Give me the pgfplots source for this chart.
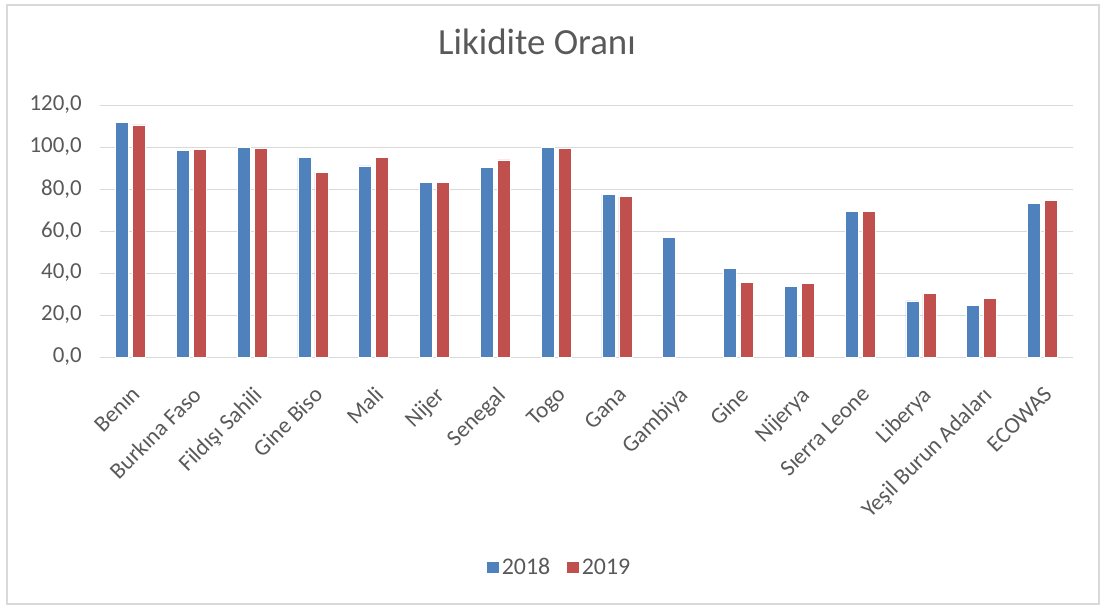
\documentclass[border=0pt]{standalone}
\usepackage{fontspec}
\setmainfont{Carlito}
\usepackage{pgfplots}
\pgfplotsset{compat=1.18}
\definecolor{barblue}{HTML}{4F81BD}
\definecolor{barred}{HTML}{C0504D}
\definecolor{txt}{HTML}{595959}
\definecolor{gridc}{HTML}{D9D9D9}
\begin{document}
\begin{tikzpicture}
\path[use as bounding box] (0bp,0bp) rectangle (1104bp,-607bp);
\draw[gridc, line width=1.5bp] (7bp,-5bp) rectangle (1099bp,-604bp);
\node[txt, font=\fontsize{37}{44}\selectfont] at (537bp,-42bp) {Likidite Oranı};
\begin{axis}[
  at={(100bp,-357bp)}, anchor=south west,
  scale only axis, width=973bp, height=252bp,
  ybar=4bp, bar width=13bp,
  ymin=0, ymax=120, ytick={0,20,...,120},
  xmin=-0.5, xmax=15.5, xtick={0,...,15},
  xticklabels={Benın,Burkına Faso,Fildışı Sahili,Gine Biso,Mali,Nijer,Senegal,Togo,Gana,Gambiya,Gine,Nijerya,Sıerra Leone,Liberya,Yeşil Burun Adaları,ECOWAS},
  ymajorgrids, grid style={gridc, line width=1bp},
  axis line style={draw=none},
  major tick length=0pt,
  /pgf/number format/.cd, fixed, fixed zerofill, precision=1, use comma, assume math mode=true,
  /pgfplots/.cd,
  yticklabel style={txt, font=\fontsize{23}{27}\selectfont, inner sep=0pt, xshift=-18bp},
  xticklabel style={txt, font=\fontsize{23}{27}\selectfont, rotate=45, anchor=north east, inner sep=0pt, xshift=-19.8bp, yshift=-19.8bp},
  legend style={at={(0.472,-0.8333)}, anchor=center, draw=none, fill=none, legend columns=2,
    font=\fontsize{24}{28}\selectfont, text=txt,
    /tikz/every even column/.append style={column sep=14bp}},
  legend image code/.code={\fill[#1] (0bp,-6bp) rectangle (13bp,6bp);},
]
\addplot[fill=barblue, draw=white, line width=0.6bp] coordinates {
(0,111.6) (1,98.2) (2,100.0) (3,95.2) (4,91.0) (5,83.1) (6,90.3) (7,100.0)
(8,77.5) (9,57.0) (10,42.3) (11,33.8) (12,69.2) (13,26.7) (14,24.6) (15,73.3)};
\addplot[fill=barred, draw=white, line width=0.6bp] coordinates {
(0,110.5) (1,98.8) (2,99.5) (3,88.0) (4,95.2) (5,83.1) (6,93.9) (7,99.5)
(8,76.4) (10,35.7) (11,35.2) (12,69.2) (13,30.3) (14,27.8) (15,74.5)};
\legend{2018,2019}
\end{axis}
\end{tikzpicture}
\end{document}
